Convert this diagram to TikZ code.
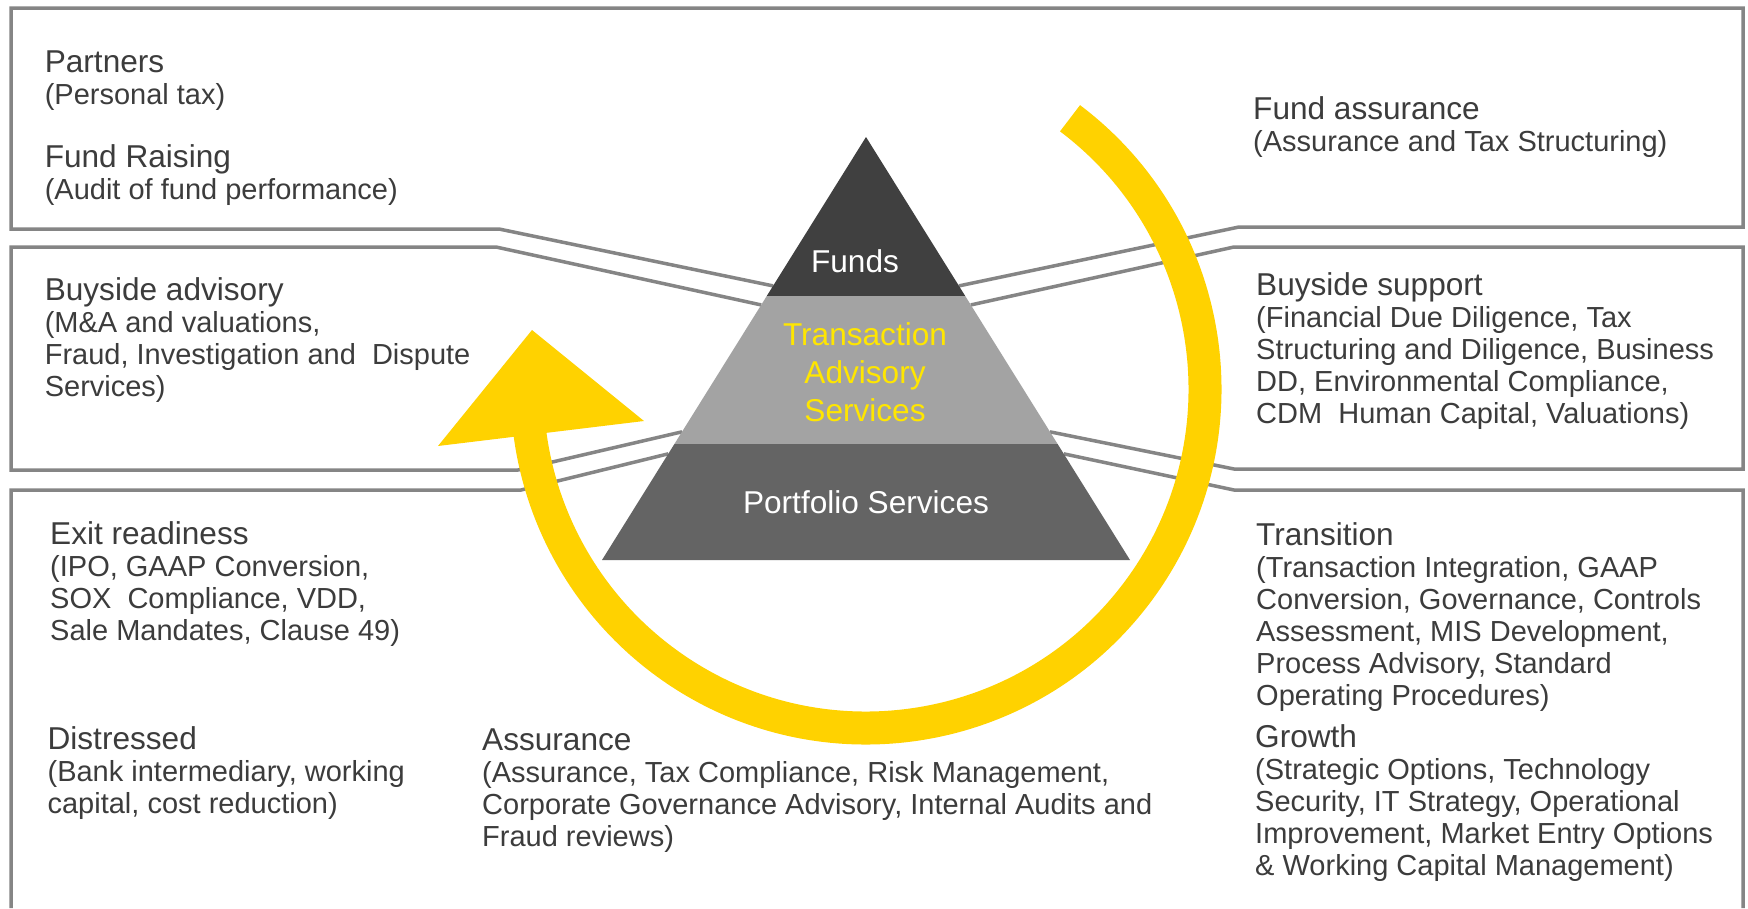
\documentclass[tikz,border=0pt]{standalone}
\usepackage{fontspec}
\setmainfont{Liberation Sans}
\usetikzlibrary{calc}

\definecolor{inkgray}{HTML}{3C3C3C}
\definecolor{rimgray}{HTML}{858585}
\definecolor{fundsgray}{HTML}{404040}
\definecolor{txngray}{HTML}{A3A3A3}
\definecolor{portgray}{HTML}{646464}
\definecolor{txnyellow}{HTML}{FFE600}
\definecolor{loopyellow}{HTML}{FFD200}

\newcommand\hd[1]{{\fontsize{31.6}{32}\selectfont #1}}

% multi-line nodes sit on the baseline of their last line
\tikzset{
	blurb/.style = {anchor=base west, align=left, inner sep=0, text=inkgray, font=\fontsize{29}{32}\selectfont},
	rim/.style = {draw=rimgray, line width=3.5},
	tier/.style = {anchor=base, align=center, inner sep=0, font=\fontsize{31.6}{38}\selectfont},
}

\begin{document}
\begin{tikzpicture}[x = 1pt, y = 1pt]
		\useasboundingbox (0,0) rectangle (1748,-908);
		\path [fill=white] (0,0) rectangle (1748,-908);
		\coordinate (apex) at (866,-137);
		\coordinate (baseL) at (602,-560);
		\coordinate (baseR) at (1130,-560);
		% panel outlines, running in to the pyramid
		\path [rim] ($(apex)!0.352!(baseL)$) -- (499,-229) -- (11,-229) -- (11,-8) -- (1743,-8) -- (1743,-227) -- (1239,-227) -- ($(apex)!0.352!(baseR)$);
		\path [rim] ($(apex)!0.397!(baseL)$) -- (496,-247) -- (11,-247) -- (11,-470) -- (518,-470) -- ($(apex)!0.697!(baseL)$);
		\path [rim] ($(apex)!0.397!(baseR)$) -- (1234,-247) -- (1743,-247) -- (1743,-469) -- (1234,-469) -- ($(apex)!0.697!(baseR)$);
		\path [rim] ($(apex)!0.749!(baseL)$) -- (521,-490) -- (11,-490) -- (11,-908);
		\path [rim] ($(apex)!0.749!(baseR)$) -- (1234,-490) -- (1743,-490) -- (1743,-908);
		% pyramid
		\path [fill=fundsgray] (apex) -- ($(apex)!0.376!(baseL)$) -- ($(apex)!0.376!(baseR)$) -- cycle;
		\path [fill=txngray] ($(apex)!0.376!(baseL)$) -- ($(apex)!0.726!(baseL)$) -- ($(apex)!0.726!(baseR)$) -- ($(apex)!0.376!(baseR)$) -- cycle;
		\path [fill=portgray] ($(apex)!0.726!(baseL)$) -- (baseL) -- (baseR) -- ($(apex)!0.726!(baseR)$) -- cycle;
		\node [tier, text=white] (funds) at (855,-272.7) {Funds};
		\node [tier, text=txnyellow] (txn) at (865,-421.7) {Transaction\\Advisory\\Services};
		\node [tier, text=white] (portfolio) at (866,-513.3) {Portfolio Services};
		% the cycle arrow
		\path [draw=loopyellow, line width=33] (866,-389) ++(53:339) arc [start angle=53, end angle=-173, radius=339];
		\path [fill=loopyellow] (438,-446) -- (532,-330) -- (644,-421) -- cycle;
		% left column
		\node [blurb] (partners) at (44.6,-104.5) {\hd{Partners}\\(Personal tax)};
		\node [blurb] (raising) at (44.6,-199.3) {\hd{Fund Raising}\\(Audit of fund performance)};
		\node [blurb] (advisory) at (44.6,-396) {\hd{Buyside advisory}\\(M\&A and valuations,\\Fraud, Investigation and~ Dispute\\Services)};
		\node [blurb] (exit) at (50,-640) {\hd{Exit readiness}\\(IPO, GAAP Conversion,\\SOX~ Compliance, VDD,\\Sale Mandates, Clause 49)};
		\node [blurb] (distressed) at (47.4,-813) {\hd{Distressed}\\(Bank intermediary, working\\capital, cost reduction)};
		\node [blurb] (assurance) at (482,-846) {\hd{Assurance}\\(Assurance, Tax Compliance, Risk Management,\\Corporate Governance Advisory, Internal Audits and\\Fraud reviews)};
		% right column
		\node [blurb] (fundassur) at (1253,-151.7) {\hd{Fund assurance}\\(Assurance and Tax Structuring)};
		\node [blurb] (support) at (1256,-423.3) {\hd{Buyside support}\\(Financial Due Diligence, Tax\\Structuring and Diligence, Business\\DD, Environmental Compliance,\\CDM~ Human Capital, Valuations)};
		\node [blurb] (transition) at (1256,-705) {\hd{Transition}\\(Transaction Integration, GAAP\\Conversion, Governance, Controls\\Assessment, MIS Development,\\Process Advisory, Standard\\Operating Procedures)};
		\node [blurb] (growth) at (1255,-875) {\hd{Growth}\\(Strategic Options, Technology\\Security, IT Strategy, Operational\\Improvement, Market Entry Options\\\& Working Capital Management)};
	\end{tikzpicture}
\end{document}
